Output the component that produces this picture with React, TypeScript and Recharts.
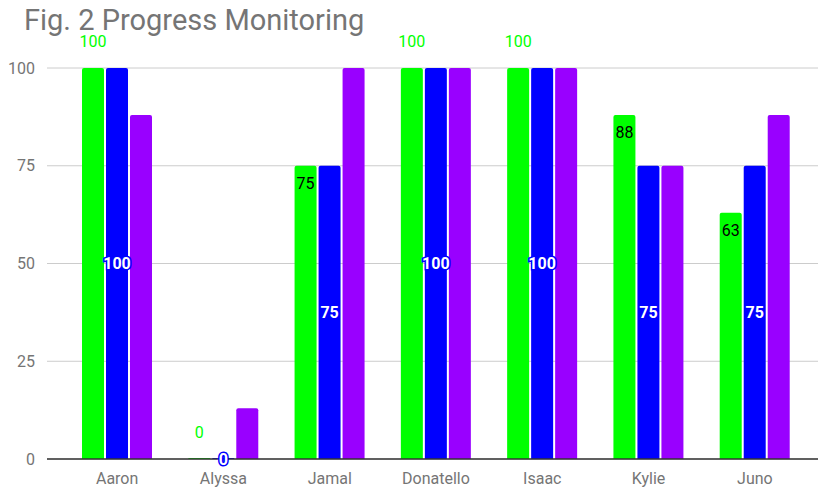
import React from 'react';
import { BarChart, Bar, XAxis, YAxis, CartesianGrid, LabelList } from 'recharts';

const students = ['Aaron', 'Alyssa', 'Jamal', 'Donatello', 'Isaac', 'Kylie', 'Juno'];
const greenScores = [100, 0, 75, 100, 100, 88, 63];
const blueScores = [100, 0, 75, 100, 100, 75, 75];
const purpleScores = [88, 13, 100, 100, 100, 75, 88];
const yTicks = [0, 25, 50, 75, 100];

const data = students.map((name, i) => ({
  name,
  green: greenScores[i],
  blue: blueScores[i],
  purple: purpleScores[i],
}));

const FONT = 'Roboto, "Noto Sans", sans-serif';

// green labels: outside (green) for 100 and 0, inside top (black) otherwise
const GreenLabel = (props: any) => {
  const { x, y, width, height, value } = props;
  const cx = Number(x) + Number(width) / 2;
  const top = Number(y) + (value === 0 ? Number(height) : 0);
  const outside = value === 100 || value === 0;
  return (
    <text
      x={cx}
      y={outside ? top - 27 : top + 18}
      textAnchor="middle"
      dominantBaseline="central"
      fontFamily={FONT}
      fontSize={16}
      fill={outside ? '#00ff00' : '#000000'}
    >
      {value}
    </text>
  );
};

const BlueLabel = (props: any) => {
  const { x, y, width, height, value } = props;
  const cy = value === 0 ? Number(y) + Number(height) : Number(y) + Number(height) / 2;
  return (
    <text
      x={Number(x) + Number(width) / 2}
      y={cy}
      textAnchor="middle"
      dominantBaseline="central"
      fontFamily={FONT}
      fontSize={16}
      fontWeight="bold"
      fill="#ffffff"
      stroke="#0000ff"
      strokeWidth={3}
      paintOrder="stroke"
    >
      {value}
    </text>
  );
};

export default function App() {
  return (
    <div style={{ position: 'absolute', left: 0, top: 0, width: 818, height: 489, background: '#fff' }}>
      <div
        style={{
          position: 'absolute',
          left: 24,
          top: 3,
          fontFamily: FONT,
          fontSize: 29,
          color: '#757575',
          whiteSpace: 'nowrap',
        }}
      >
        Fig. 2 Progress Monitoring
      </div>
      <BarChart
        width={818}
        height={489}
        data={data}
        margin={{ top: 68, right: 0, bottom: 0, left: 0 }}
        barCategoryGap={18}
        barGap={2}
      >
        <CartesianGrid horizontal vertical={false} stroke="#cccccc" />
        <XAxis
          dataKey="name"
          height={30}
          padding={{ left: 17, right: 10 }}
          axisLine={{ stroke: '#333333', strokeWidth: 1.5 }}
          tickLine={false}
          tickMargin={8}
          tick={{ fill: '#757575', fontSize: 16, fontFamily: FONT }}
        />
        <YAxis
          width={47}
          domain={[0, 100]}
          ticks={yTicks}
          axisLine={false}
          tickLine={false}
          tickMargin={6}
          tick={{ fill: '#757575', fontSize: 16, fontFamily: FONT }}
        />
        <Bar dataKey="green" fill="#00ff00" radius={[2, 2, 0, 0]} minPointSize={1} isAnimationActive={false}>
          <LabelList dataKey="green" content={GreenLabel} />
        </Bar>
        <Bar dataKey="blue" fill="#0000ff" radius={[2, 2, 0, 0]} minPointSize={1} isAnimationActive={false}>
          <LabelList dataKey="blue" content={BlueLabel} />
        </Bar>
        <Bar dataKey="purple" fill="#9900ff" radius={[2, 2, 0, 0]} isAnimationActive={false} />
      </BarChart>
    </div>
  );
}
